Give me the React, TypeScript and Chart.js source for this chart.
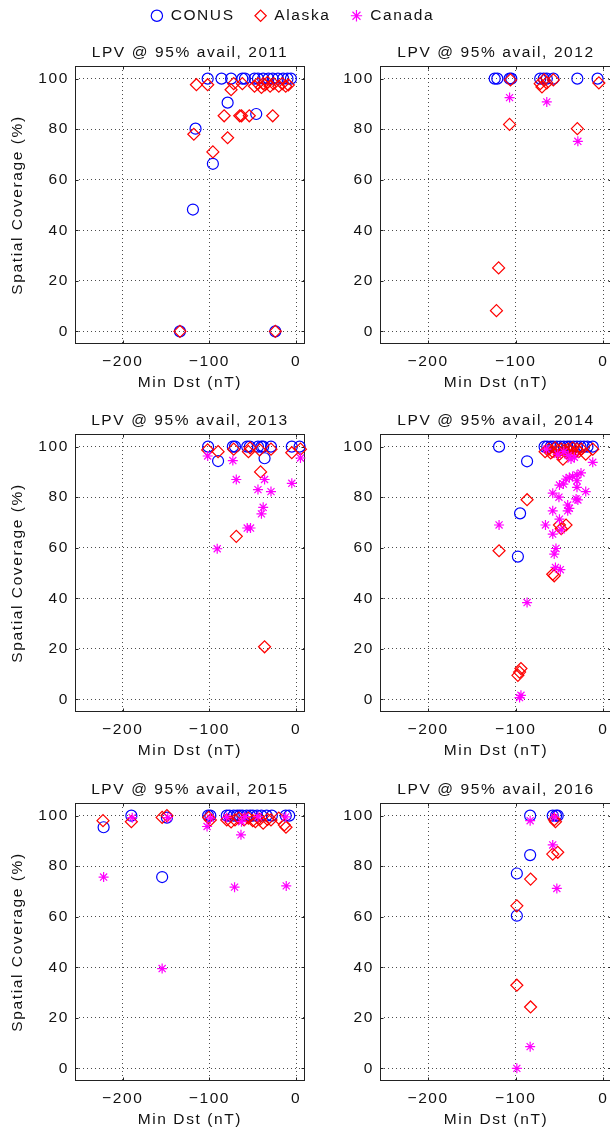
import React, { useEffect, useRef } from 'react';
import { Chart, registerables } from 'chart.js';

Chart.register(...registerables);

type Pt = [number, number];

// ---------- data ----------
const years = [2011, 2012, 2013, 2014, 2015, 2016];
const seriesNames = ['CONUS', 'Alaska', 'Canada'];
const xTicks = [-200, -100, 0];
const yTicks = [0, 20, 40, 60, 80, 100];
const xMin = -255;
const xMax = 10;
const yMin = -5;
const yMax = 105;

const conus2011: Pt[] = [
  [-102, 100], [-86, 100], [-75, 100], [-62, 100], [-59, 100], [-48, 100], [-44, 100], [-38, 100],
  [-32, 100], [-27, 100], [-21, 100], [-15, 100], [-10, 100], [-6, 100],
  [-79, 90.5], [-46, 86], [-116, 80.2], [-96, 66.3], [-119, 48.2], [-134, 0], [-24, 0],
];
const alaska2011: Pt[] = [
  [-115, 97.6], [-102, 97.6], [-75, 95.6], [-72, 98], [-62, 98], [-48, 97], [-44, 98], [-40, 96.5],
  [-38, 98], [-36, 97.5], [-33, 98.5], [-30, 97], [-26, 98], [-20, 97], [-16, 98], [-12, 97], [-9, 97.5],
  [-83, 85.3], [-65, 85.3], [-63, 85.3], [-54, 85.3], [-27, 85.3], [-118, 78], [-79, 76.6], [-96, 71],
  [-134, 0], [-24, 0],
];
const canada2011: Pt[] = [];

const conus2012: Pt[] = [
  [-124, 100], [-121, 100], [-107, 100], [-105, 100], [-72, 100], [-68, 100], [-64.5, 100], [-57, 100],
  [-29.6, 100], [-6.5, 100],
];
const alaska2012: Pt[] = [
  [-106, 99.5], [-72, 98], [-70, 96.7], [-67.5, 99.5], [-64.5, 98.3], [-57, 99.5], [-5, 98.3],
  [-107, 81.9], [-29.6, 80.2], [-119.5, 25.1], [-122, 8.2],
];
const canada2012: Pt[] = [[-107, 92.5], [-64.5, 90.8], [-29, 75.2]];

const conus2013: Pt[] = [
  [-101.5, 100], [-90, 94.3], [-73, 100], [-70.5, 100], [-56.4, 100], [-53.4, 100], [-44, 100], [-40, 100],
  [-38, 100], [-36.4, 95.4], [-29, 100], [-5, 100], [4, 100],
];
const alaska2013: Pt[] = [
  [-102, 98.7], [-90, 98], [-72, 99], [-55, 98], [-53, 99.5], [-42, 98.7], [-29, 99], [-5, 97.6], [5, 99],
  [-41, 90], [-69, 64.5], [-36.4, 20.8],
];
const canada2013: Pt[] = [
  [-102, 96.3], [-73, 94.5], [5, 95.5], [-69, 87], [-44, 83], [-36.4, 87], [-29, 82.2], [-5, 85.5],
  [-38, 76], [-40, 73.4], [-56.4, 67.8], [-52.6, 67.8], [-91, 59.6],
];

const conus2014: Pt[] = [
  [-119, 100], [-87, 94.2], [-95, 73.6], [-97.5, 56.5], [-67, 100], [-64, 100], [-60, 100], [-57, 100],
  [-53, 100], [-49, 100], [-45, 100], [-41, 100], [-38, 100], [-34, 100], [-30, 100], [-26, 100],
  [-22, 100], [-18, 100], [-12, 100],
];
const alaska2014: Pt[] = [
  [-119, 58.8], [-87, 79], [-50, 69], [-42.5, 69], [-48, 67.5], [-57.7, 49.5], [-56, 48.9],
  [-97.5, 9.5], [-94, 12.2], [-95.6, 10.8], [-66.4, 98], [-62, 99], [-60, 97.5], [-57.7, 98], [-55, 99.5],
  [-52, 98.5], [-50, 97], [-48, 99], [-46, 95], [-44, 98.5], [-42, 97.5], [-40, 99], [-37, 98],
  [-35, 99.5], [-33, 97.5], [-30, 99], [-28, 98], [-25, 99], [-20, 97], [-12, 99],
];
const canada2014: Pt[] = [
  [-119, 69], [-87, 38.3], [-95.6, 0.7], [-94, 1.6], [-66, 69], [-57.7, 65.4], [-57.7, 74.6], [-57.7, 81.6],
  [-56, 57.5], [-54, 59.7], [-54.6, 52.2], [-49, 51.3], [-50.6, 80], [-50, 84.8], [-45.5, 85.2], [-50, 71.3],
  [-48, 67.1], [-42.5, 87.2], [-38.7, 87.8], [-35, 88.2], [-30, 88.8], [-25.4, 89.6], [-40.6, 74.6],
  [-38.7, 75.6], [-40.6, 76.9], [-31, 79.3], [-29, 78.9], [-30, 83.9], [-30, 86.5], [-20, 82.2],
  [-36.8, 95.1], [-33, 95.8], [-12, 93.8], [-65, 99], [-45, 98], [-52, 97], [-40, 96.5],
];

const conus2015: Pt[] = [
  [-222, 95.4], [-190, 100], [-154.5, 75.7], [-149, 99.2], [-101.5, 100], [-98.9, 100], [-80, 100],
  [-77, 100], [-72, 100], [-68, 100], [-65, 100], [-62, 100], [-57, 100], [-53, 100], [-50, 100],
  [-45, 100], [-40, 100], [-34, 100], [-28, 100], [-12, 100], [-8, 100],
];
const alaska2015: Pt[] = [
  [-222.7, 98], [-190, 97.6], [-154.5, 99.3], [-149, 100], [-100.8, 99.3], [-98.9, 98.3], [-80, 98.3],
  [-75, 97.5], [-70.5, 98.3], [-66, 99], [-60, 98.3], [-55, 99], [-50, 98], [-47, 97.6], [-42, 98.5],
  [-38, 97], [-33, 98.5], [-29, 98.3], [-20, 99], [-13.6, 96.3], [-11.7, 95.4],
];
const canada2015: Pt[] = [
  [-222, 75.7], [-189, 99.2], [-154.5, 39.5], [-148, 99.2], [-102.7, 95.7], [-98.9, 99], [-63.6, 92.4],
  [-71, 71.7], [-11.4, 72.2], [-63, 97.6], [-59, 99.6], [-44, 99.6], [-80, 99.3], [-12, 99.5],
];

const conus2016: Pt[] = [
  [-83.5, 100], [-57.7, 100], [-53.9, 100], [-52, 100], [-83.5, 84.4], [-98.7, 77.1], [-98.7, 60.4],
];
const alaska2016: Pt[] = [
  [-55.8, 98.4], [-54.6, 97.6], [-57.7, 84.8], [-52, 85.5], [-83, 74.9], [-98.7, 64.3], [-98.7, 32.9],
  [-83, 24.3],
];
const canada2016: Pt[] = [
  [-83.5, 98], [-57.7, 88.4], [-53, 71.2], [-83.5, 8.6], [-98.7, 0], [-55.8, 99.5],
];

const conusByYear = [conus2011, conus2012, conus2013, conus2014, conus2015, conus2016];
const alaskaByYear = [alaska2011, alaska2012, alaska2013, alaska2014, alaska2015, alaska2016];
const canadaByYear = [canada2011, canada2012, canada2013, canada2014, canada2015, canada2016];

// ---------- style ----------
const FONT_FAMILY = '"Liberation Sans", Arial, Helvetica, sans-serif';
const FONT_SIZE = 15.5;
const LETTER_SPACING = '1.6px';
const TEXT = '#111';
const GRID = 'rgba(0,0,0,0.7)';
const FRAME = '#222';
const COLORS = ['#0000ff', '#ff0000', '#ff00ff'];
const STYLES = ['circle', 'rectRot', 'star'];
const RADII = [5.5, 6, 5];
const MARK_W = 1.2;

const CHART_TOPS = [66, 434, 803];
const CANVAS_H = 369;
const COLS = [
  { left: 0, width: 312, yWidth: 75, padRight: 5, yTitle: true },
  { left: 308, width: 317, yWidth: 72, padRight: 13, yTitle: false },
];

const spacingPlugin = {
  id: 'letterSpacing',
  beforeLayout(chart: any) { chart.ctx.letterSpacing = LETTER_SPACING; },
  beforeDraw(chart: any) { chart.ctx.letterSpacing = LETTER_SPACING; },
};

const framePlugin = {
  id: 'frame',
  beforeDatasetsDraw(chart: any) {
    const { ctx, chartArea: a, scales } = chart;
    ctx.save();
    ctx.setLineDash([]);
    ctx.strokeStyle = FRAME;
    ctx.lineWidth = 1;
    const l = Math.round(a.left) + 0.5;
    const r = Math.round(a.right) - 0.5;
    const t = Math.round(a.top) + 0.5;
    const b = Math.round(a.bottom) - 0.5;
    ctx.strokeRect(l, t, r - l, b - t);
    const tk = 3;
    ctx.beginPath();
    for (const v of xTicks) {
      const px = Math.round(scales.x.getPixelForValue(v)) + 0.5;
      ctx.moveTo(px, b); ctx.lineTo(px, b - tk);
      ctx.moveTo(px, t); ctx.lineTo(px, t + tk);
    }
    for (const v of yTicks) {
      const py = Math.round(scales.y.getPixelForValue(v)) + 0.5;
      ctx.moveTo(l, py); ctx.lineTo(l + tk, py);
      ctx.moveTo(r, py); ctx.lineTo(r - tk, py);
    }
    ctx.stroke();
    ctx.restore();
  },
};

const font = (lh: string) => ({ family: FONT_FAMILY, size: FONT_SIZE, lineHeight: lh });
const fmt = (v: any) => (Number(v) < 0 ? '\u2212' + Math.abs(Number(v)) : String(v));

function makeDataset(idx: number, pts: Pt[]) {
  return {
    label: seriesNames[idx],
    data: pts.map(([x, y]) => ({ x, y })),
    pointStyle: STYLES[idx],
    pointRadius: RADII[idx],
    pointHoverRadius: RADII[idx],
    pointBorderColor: COLORS[idx],
    pointBackgroundColor: 'rgba(0,0,0,0)',
    borderColor: COLORS[idx],
    backgroundColor: 'rgba(0,0,0,0)',
    pointBorderWidth: MARK_W,
    borderWidth: MARK_W,
    showLine: false,
    clip: false,
  };
}

function Panel({ index }: { index: number }) {
  const ref = useRef<HTMLCanvasElement | null>(null);
  const row = Math.floor(index / 2);
  const col = index % 2;
  const c = COLS[col];
  useEffect(() => {
    const chart = new Chart(ref.current as HTMLCanvasElement, {
      type: 'scatter',
      data: {
        datasets: [
          makeDataset(2, canadaByYear[index]),
          makeDataset(1, alaskaByYear[index]),
          makeDataset(0, conusByYear[index]),
        ],
      } as any,
      options: {
        animation: false,
        responsive: false,
        devicePixelRatio: 1,
        events: [],
        layout: { padding: { top: 23, left: 0, right: c.padRight, bottom: 0 } },
        plugins: {
          legend: { display: false },
          tooltip: { enabled: false },
          title: {
            display: true,
            text: `LPV @ 95% avail, ${years[index]}`,
            fullSize: false,
            color: TEXT,
            font: { ...font('18px'), weight: 'normal' },
            padding: { top: 0, bottom: 4 },
          },
        },
        scales: {
          x: {
            type: 'linear',
            min: xMin,
            max: xMax,
            afterBuildTicks: (s: any) => { s.ticks = xTicks.map((v) => ({ value: v })); },
            afterFit: (s: any) => { s.height = 46; },
            grid: { color: GRID, lineWidth: 1, drawTicks: false, tickLength: 0 },
            border: { display: false, dash: [1, 3] },
            ticks: { padding: 9, color: TEXT, font: font('18px'), autoSkip: false, maxRotation: 0, callback: fmt },
            title: { display: true, text: 'Min Dst (nT)', color: TEXT, font: font('15px'), padding: 0 },
          },
          y: {
            type: 'linear',
            min: yMin,
            max: yMax,
            afterBuildTicks: (s: any) => { s.ticks = yTicks.map((v) => ({ value: v })); },
            afterFit: (s: any) => { s.width = c.yWidth; },
            grid: { color: GRID, lineWidth: 1, drawTicks: false, tickLength: 0 },
            border: { display: false, dash: [1, 3] },
            ticks: { padding: 6, color: TEXT, font: font('18px'), autoSkip: false, callback: fmt },
            title: {
              display: c.yTitle,
              text: 'Spatial Coverage (%)',
              color: TEXT,
              font: font('15px'),
              padding: { top: 10, bottom: 0 },
            },
          },
        },
      } as any,
      plugins: [spacingPlugin, framePlugin],
    });
    return () => chart.destroy();
  }, []);
  return (
    <canvas
      ref={ref}
      width={c.width}
      height={CANVAS_H}
      style={{ position: 'absolute', left: c.left, top: CHART_TOPS[row] - 45, width: c.width, height: CANVAS_H, display: 'block' }}
    />
  );
}

function Legend() {
  const ref = useRef<HTMLCanvasElement | null>(null);
  useEffect(() => {
    const chart = new Chart(ref.current as HTMLCanvasElement, {
      type: 'scatter',
      data: {
        datasets: [makeDataset(0, []), makeDataset(1, []), makeDataset(2, [])],
      } as any,
      options: {
        animation: false,
        responsive: false,
        devicePixelRatio: 1,
        events: [],
        layout: { padding: 0 },
        scales: { x: { display: false }, y: { display: false } },
        plugins: {
          tooltip: { enabled: false },
          title: { display: false },
          legend: {
            display: true,
            position: 'top',
            labels: {
              usePointStyle: true,
              boxWidth: 12,
              boxHeight: 8,
              padding: 20,
              color: TEXT,
              font: font('18px'),
            },
          },
        },
      } as any,
      plugins: [spacingPlugin],
    });
    return () => chart.destroy();
  }, []);
  return (
    <canvas
      ref={ref}
      width={585}
      height={160}
      style={{ position: 'absolute', left: 0, top: -12, width: 585, height: 160, display: 'block' }}
    />
  );
}

export default function App() {
  return (
    <div style={{ position: 'absolute', left: 0, top: 0, width: 610, height: 1133, overflow: 'hidden', background: '#fff' }}>
      <Legend />
      {years.map((y, i) => (
        <Panel key={y} index={i} />
      ))}
    </div>
  );
}
